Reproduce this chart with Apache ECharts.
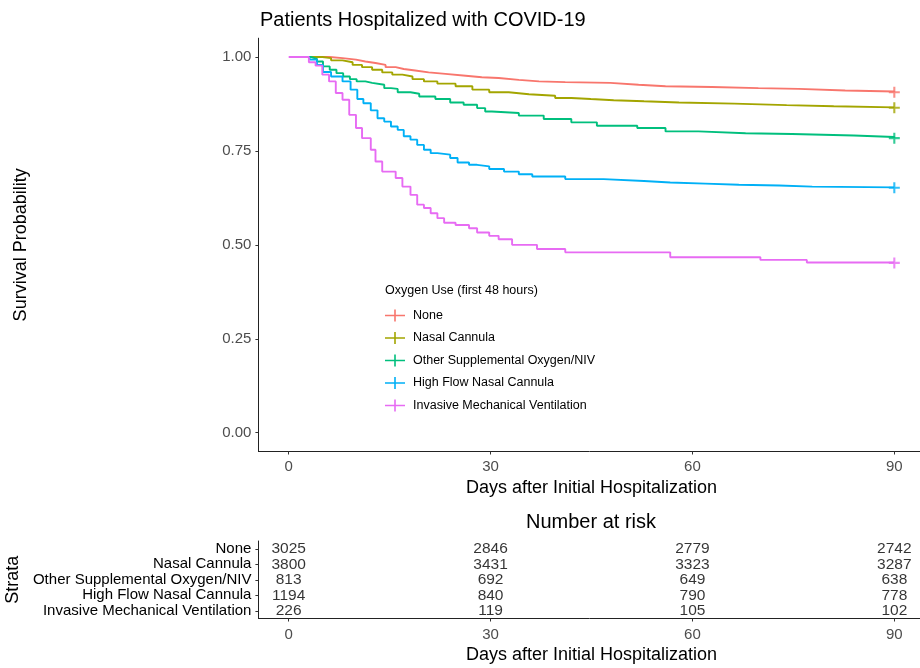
<!DOCTYPE html>
<html>
<head>
<meta charset="utf-8">
<script src="https://cdn.jsdelivr.net/npm/echarts@6/dist/echarts.min.js"></script>
<style>
html,body{margin:0;padding:0;background:#fff;}
#c{width:920px;height:668px;}
</style>
</head>
<body>
<div id="c"></div>
<script>
// ---- Data ----
const strata = ['None', 'Nasal Cannula', 'Other Supplemental Oxygen/NIV', 'High Flow Nasal Cannula', 'Invasive Mechanical Ventilation'];
const colors = ['#F8766D', '#A3A500', '#00BF7D', '#00B0F6', '#E76BF3'];

const noneDays = [3, 6.1, 8, 10, 11.4, 12.9, 14.4, 15.9, 17.1, 18.8, 20.8, 23.3, 26.3, 28.7, 31.2, 34.2, 37.2, 41.1, 47.8, 52, 56, 62.9, 69.8, 75.8, 82.7, 90];
const noneSurv = [1.0, 0.997, 0.993, 0.988, 0.984, 0.979, 0.973, 0.968, 0.964, 0.959, 0.955, 0.950, 0.946, 0.944, 0.939, 0.935, 0.933, 0.931, 0.926, 0.922, 0.920, 0.917, 0.915, 0.911, 0.908, 0.906];

const nasalDays = [3, 5, 6.3, 8, 9.5, 10.9, 12.4, 13.9, 15.4, 16.9, 18.4, 20.1, 22.1, 24.8, 27.3, 29.8, 32.7, 35.7, 39.6, 42, 44.9, 48.3, 52.8, 58, 66.2, 74, 81, 90];
const nasalSurv = [1.0, 0.997, 0.991, 0.986, 0.979, 0.973, 0.966, 0.959, 0.953, 0.948, 0.941, 0.935, 0.929, 0.922, 0.913, 0.906, 0.901, 0.897, 0.891, 0.888, 0.885, 0.882, 0.879, 0.876, 0.872, 0.869, 0.866, 0.865];

const otherDays = [3, 3.3, 4.2, 5.1, 6.1, 7.1, 8.1, 9.1, 10.1, 11.4, 12.4, 14.2, 15.2, 16.2, 18.1, 19.4, 21.8, 24, 26, 28, 29.2, 30.2, 34.2, 37.9, 42, 45.8, 51.8, 56, 60.9, 67.9, 74.8, 84, 90];
const otherSurv = [1.0, 0.995, 0.988, 0.975, 0.966, 0.957, 0.948, 0.941, 0.935, 0.931, 0.926, 0.917, 0.915, 0.906, 0.902, 0.895, 0.888, 0.879, 0.873, 0.864, 0.855, 0.851, 0.844, 0.835, 0.826, 0.817, 0.811, 0.802, 0.797, 0.795, 0.791, 0.787, 0.784];

const hfncDays = [3, 3.2, 4.2, 5.1, 6.3, 8, 9.2, 10.2, 11.1, 12.2, 13.2, 14.2, 15.2, 16.2, 17.1, 18.1, 19.1, 20.1, 21.1, 22.1, 24, 25.1, 26.8, 28, 29.8, 32, 34.2, 36.2, 41.1, 46.8, 52.8, 56.7, 61.9, 66.9, 72.9, 77.8, 90];
const hfncSurv = [1.0, 0.993, 0.979, 0.960, 0.948, 0.935, 0.913, 0.888, 0.877, 0.858, 0.837, 0.828, 0.815, 0.806, 0.789, 0.780, 0.766, 0.753, 0.744, 0.740, 0.731, 0.719, 0.713, 0.709, 0.702, 0.695, 0.688, 0.682, 0.675, 0.670, 0.666, 0.663, 0.660, 0.658, 0.655, 0.653, 0.652];

const imvDays = [0, 3, 4, 5, 6, 7, 8, 9, 10, 10.9, 12.2, 12.9, 13.9, 15.9, 16.9, 18.1, 19.1, 20.1, 21.1, 22.1, 23.1, 24.8, 26.8, 28, 29.8, 31.2, 33.2, 36.9, 41.1, 56.7, 70.1, 77, 90];
const imvSurv = [1.0, 0.986, 0.977, 0.953, 0.935, 0.904, 0.886, 0.846, 0.811, 0.784, 0.753, 0.722, 0.695, 0.678, 0.655, 0.633, 0.607, 0.598, 0.584, 0.571, 0.559, 0.553, 0.544, 0.533, 0.524, 0.515, 0.500, 0.489, 0.480, 0.467, 0.460, 0.453, 0.452];

const xTicks = [0, 30, 60, 90];
const yTicks = [0, 0.25, 0.5, 0.75, 1.0];

const riskTimes = [0, 30, 60, 90];
const riskNone = [3025, 2846, 2779, 2742];
const riskNasal = [3800, 3431, 3323, 3287];
const riskOther = [813, 692, 649, 638];
const riskHfnc = [1194, 840, 790, 778];
const riskImv = [226, 119, 105, 102];

// ---- Build ----
const curves = [[noneDays, noneSurv], [nasalDays, nasalSurv], [otherDays, otherSurv], [hfncDays, hfncSurv], [imvDays, imvSurv]];
const risks = [riskNone, riskNasal, riskOther, riskHfnc, riskImv];

const FONT = 'Liberation Sans, Arial, sans-serif';
const legendIcon = 'path://M0,5.2h20v1.6h-20z M9.2,0h1.6v12h-1.6z';
const plusIcon = 'path://M0,4.45h11v2.1h-11z M4.45,0h2.1v11h-2.1z';

const series = [];
curves.forEach((c, i) => {
  const data = c[0].map((d, k) => [d, c[1][k]]);
  series.push({
    name: strata[i], type: 'line', step: 'end', xAxisIndex: 0, yAxisIndex: 0,
    data: data, showSymbol: false, symbol: legendIcon,
    lineStyle: { color: colors[i], width: 1.9 }, itemStyle: { color: colors[i] },
    silent: true, z: 2 + i
  });
  const last = data[data.length - 1];
  series.push({
    name: strata[i], type: 'scatter', xAxisIndex: 0, yAxisIndex: 0,
    data: [last], symbol: plusIcon, symbolSize: 11,
    itemStyle: { color: colors[i] }, silent: true, z: 3 + i
  });
});

const riskData = [];
risks.forEach((r, i) => {
  r.forEach((n, k) => riskData.push([riskTimes[k], strata[i], n]));
});
series.push({
  type: 'scatter', xAxisIndex: 1, yAxisIndex: 1, data: riskData,
  symbolSize: 1, itemStyle: { color: 'transparent' }, silent: true,
  label: { show: true, position: 'inside', formatter: p => String(p.value[2]),
           color: '#000', fontSize: 15.5, fontFamily: FONT }
});

const tickStyle = { show: true, lineStyle: { color: '#333', width: 1 }, length: 3 };

const option = {
  animation: false,
  backgroundColor: '#fff',
  title: {
    text: 'Patients Hospitalized with COVID-19', left: 255, top: 5,
    textStyle: { fontFamily: FONT, fontSize: 20, fontWeight: 'normal', color: '#000' }
  },
  legend: {
    data: strata.map((s, i) => ({ name: s, icon: legendIcon, itemStyle: { color: colors[i] } })),
    orient: 'vertical', left: 380, top: 304, itemWidth: 20, itemHeight: 12, itemGap: 9.5,
    selectedMode: false,
    textStyle: { fontFamily: FONT, fontSize: 12.5, color: '#000', padding: [0, 0, 0, 3] }
  },
  graphic: [
    { type: 'text', left: 385, top: 284,
      style: { text: 'Oxygen Use (first 48 hours)', fontFamily: FONT, fontSize: 12.5, fill: '#000' } },
    { type: 'text', x: 591, y: 522,
      style: { text: 'Number at risk', fontFamily: FONT, fontSize: 20, fill: '#000', align: 'center', verticalAlign: 'middle' } }
  ],
  grid: [
    { left: 258.4, top: 38.2, width: 666.2, height: 413.3, outerBoundsMode: 'none', containLabel: false },
    { left: 258.4, top: 541, width: 666.2, height: 77.5, outerBoundsMode: 'none', containLabel: false }
  ],
  xAxis: [
    { type: 'value', gridIndex: 0, min: -4.5, max: 94.5,
      name: 'Days after Initial Hospitalization', nameLocation: 'middle', nameGap: 27,
      nameTextStyle: { fontFamily: FONT, fontSize: 18, color: '#000' },
      axisLine: { show: true, onZero: false, lineStyle: { color: '#222', width: 1 } },
      axisTick: Object.assign({ customValues: xTicks }, tickStyle),
      axisLabel: { customValues: xTicks, fontFamily: FONT, fontSize: 15, color: '#4D4D4D', margin: 8 },
      splitLine: { show: false } },
    { type: 'value', gridIndex: 1, min: -4.5, max: 94.5,
      name: 'Days after Initial Hospitalization', nameLocation: 'middle', nameGap: 27.5,
      nameTextStyle: { fontFamily: FONT, fontSize: 18, color: '#000' },
      axisLine: { show: true, onZero: false, lineStyle: { color: '#222', width: 1 } },
      axisTick: Object.assign({ customValues: xTicks }, tickStyle),
      axisLabel: { customValues: xTicks, fontFamily: FONT, fontSize: 15, color: '#4D4D4D', margin: 9 },
      splitLine: { show: false } }
  ],
  yAxis: [
    { type: 'value', gridIndex: 0, min: -0.05, max: 1.05,
      name: 'Survival Probability', nameLocation: 'middle', nameGap: 228,
      nameTextStyle: { fontFamily: FONT, fontSize: 18, color: '#000' },
      axisLine: { show: true, onZero: false, lineStyle: { color: '#222', width: 1 } },
      axisTick: Object.assign({ customValues: yTicks }, tickStyle),
      axisLabel: { customValues: yTicks, formatter: v => v.toFixed(2), fontFamily: FONT, fontSize: 15, color: '#4D4D4D', margin: 7 },
      splitLine: { show: false } },
    { type: 'category', gridIndex: 1, data: strata, inverse: true,
      name: 'Strata', nameLocation: 'middle', nameGap: 228,
      nameTextStyle: { fontFamily: FONT, fontSize: 18, color: '#000' },
      axisLine: { show: true, onZero: false, lineStyle: { color: '#222', width: 1 } },
      axisTick: { show: true, alignWithLabel: true, interval: 0, length: 3, lineStyle: { color: '#333' } },
      axisLabel: { interval: 0, fontFamily: FONT, fontSize: 15, color: '#000', margin: 7 },
      splitLine: { show: false } }
  ],
  series: series
};

const chart = echarts.init(document.getElementById('c'), null, { renderer: 'canvas' });
chart.setOption(option);
</script>
</body>
</html>
